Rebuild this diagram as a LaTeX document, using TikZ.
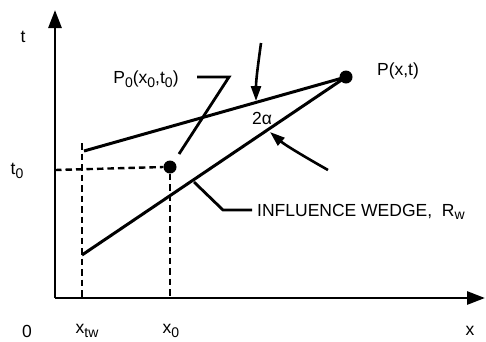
\documentclass[tikz,border=0pt]{standalone}
\usepackage{fontspec}
\setmainfont{Liberation Sans}
\usetikzlibrary{arrows.meta}
\newcommand{\mysub}[1]{\raisebox{-0.4ex}{\fontsize{14}{16}\selectfont #1}}
\begin{document}
\begin{tikzpicture}[x=1pt,y=-1pt,
  lbl/.style={inner sep=0pt,font=\fontsize{17.5}{20}\selectfont},
  axis/.style={line width=2.8pt,-{Triangle[length=18pt,width=13pt]}},
  wedge/.style={line width=3pt},
  dashline/.style={line width=2.4pt,dash pattern=on 6.5pt off 4pt},
  leader/.style={line width=2.8pt},
  curvearrow/.style={line width=2.6pt,-{Triangle[length=15pt,width=10pt]}},
  dot/.style={circle,fill=black,inner sep=0pt,minimum size=13pt}]
\useasboundingbox (0,0) rectangle (486,341);
% axes
\coordinate (O) at (55,298);
\coordinate (ttip) at (55,10);
\coordinate (xtip) at (485,298);
\draw[axis] (O) -- (ttip);
\draw[axis] (O) -- (xtip);
% points
\node[dot] (P) at (346,77) {};
\node[dot] (P0) at (170,167) {};
\coordinate (U) at (84,151);
\coordinate (L) at (82,255);
\coordinate (t0a) at (55,170);
\coordinate (xtwtop) at (82,143);
\coordinate (xtwbot) at (82,298);
\coordinate (x0bot) at (170,298);
% dashed lines
\draw[dashline] (t0a) -- (P0.west);
\draw[dashline] (P0.south) -- (x0bot);
\draw[dashline] (xtwtop) -- (xtwbot);
% wedge
\draw[wedge] (U) -- (P.center);
\draw[wedge] (L) -- (P.center);
% labels
\node[lbl] (tl) at (23,37) {t};
\node[lbl] (t0l) at (17,171) {t\mysub{0}};
\node[lbl] (zero) at (27,331) {0};
\node[lbl] (xtwl) at (87,331) {x\mysub{tw}};
\node[lbl] (x0l) at (171,331) {x\mysub{0}};
\node[lbl] (xl) at (470,331) {x};
\node[lbl] (Pl) at (398,71) {P(x,t)};
\node[lbl] (P0l) at (146,79) {P\mysub{0}(x\mysub{0},t\mysub{0})};
\node[lbl] (al) at (262,118) {2α};
\node[lbl,anchor=west] (iw) at (257,212) {INFLUENCE WEDGE,\ \ R\mysub{w}};
% leaders
\coordinate (p0a) at (197,77);
\coordinate (p0b) at (229,77);
\coordinate (p0c) at (179,154);
\draw[leader] (p0a) -- (p0b) -- (p0c);
\coordinate (iwa) at (194,182);
\coordinate (iwb) at (223,210);
\coordinate (iwc) at (252,210);
\draw[leader] (iwa) -- (iwb) -- (iwc);
% curved arrows
\coordinate (ua) at (261,43);
\coordinate (ub) at (256,101);
\draw[curvearrow] (ua) .. controls (258,65) and (256,80) .. (ub);
\coordinate (la) at (328,170);
\coordinate (lb) at (270,132);
\draw[curvearrow] (la) .. controls (305,157) and (285,145) .. (lb);
\end{tikzpicture}
\end{document}
